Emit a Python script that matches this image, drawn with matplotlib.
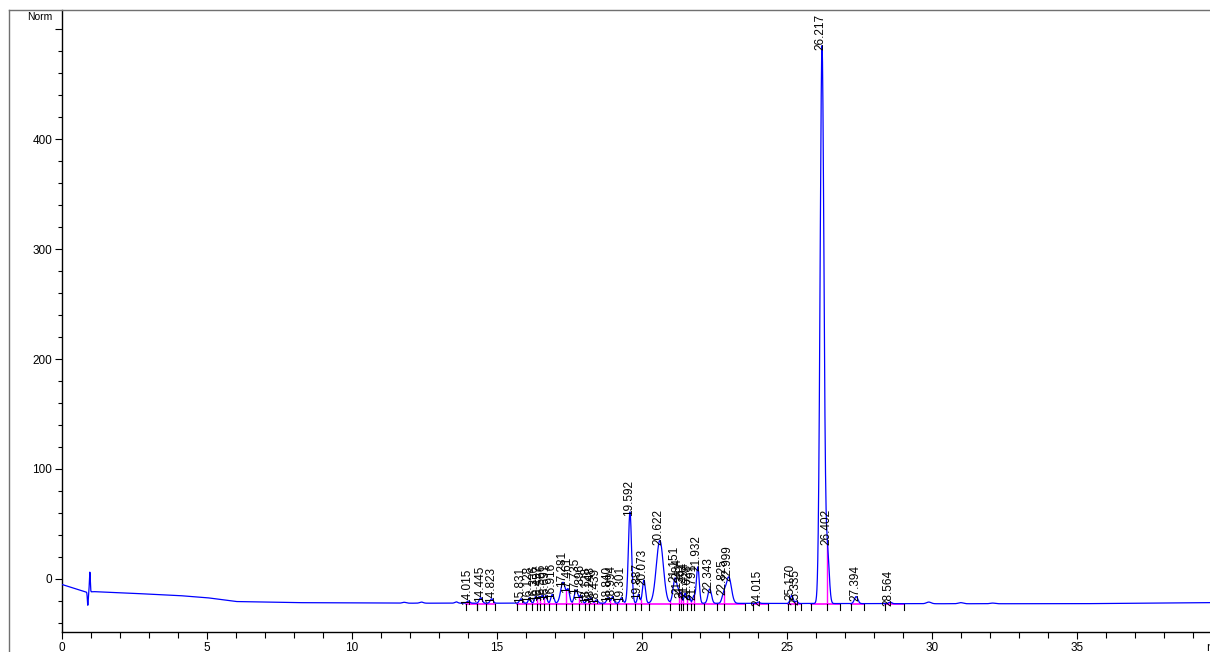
import numpy as np
import matplotlib.pyplot as plt
from matplotlib.lines import Line2D
from matplotlib.ticker import MultipleLocator, FixedLocator, FuncFormatter

plt.rcParams['font.family'] = ['Liberation Sans', 'DejaVu Sans']

# integrated peaks: retention time (min), apex signal (Norm), width (sigma, min)
peak_rt = [14.015, 14.445, 14.823, 15.831, 16.128, 16.336, 16.457, 16.566, 16.691,
           16.916, 17.281, 17.461, 17.735, 17.896, 18.128, 18.248, 18.439, 18.840,
           18.994, 19.301, 19.592, 19.887, 20.073, 20.622, 21.151, 21.284, 21.361,
           21.494, 21.628, 21.791, 21.932, 22.343, 22.825, 22.999, 24.015, 25.170,
           25.335, 26.217, 26.402, 27.394, 28.564]
peak_apex = [-20, -17, -18, -18, -17, -16, -16, -15, -15,
             -14, -3, -9, -10, -15, -18, -17, -19, -17,
             -16, -17, 61, -14, -1, 35, 1, -10, -13,
             -13, -15, -15, 11, -9, -11, 2, -21, -15,
             -20, 485, 35, -16, -21]
peak_sigma = [0.05, 0.05, 0.05, 0.05, 0.04, 0.04, 0.04, 0.04, 0.04,
              0.05, 0.08, 0.05, 0.06, 0.05, 0.04, 0.04, 0.05, 0.05,
              0.04, 0.05, 0.055, 0.04, 0.05, 0.12, 0.07, 0.04, 0.03,
              0.04, 0.04, 0.04, 0.05, 0.06, 0.06, 0.09, 0.05, 0.05,
              0.04, 0.065, 0.06, 0.06, 0.05]

# small unlabelled bumps and the injection disturbance
minor_rt = [0.89, 0.96, 11.8, 12.4, 13.6, 29.9, 31.0, 32.1]
minor_amp = [-12, 18, 0.8, 1.0, 1.2, 1.5, 1.0, 0.6]
minor_sigma = [0.015, 0.015, 0.06, 0.06, 0.05, 0.08, 0.08, 0.08]

# baseline drift
drift_t = [0, 0.85, 1.1, 2, 4, 5, 6, 8, 12, 20, 30, 35, 39.6]
drift_v = [-5, -12, -11.5, -12.5, -15, -17, -20.5, -21.5, -22, -22, -22.5, -22.5, -21.5]

# integration windows (start, end) and their baseline level
windows = [(13.95, 14.3), (14.3, 14.95), (15.7, 19.45), (19.45, 23.55), (23.85, 24.35),
           (25.05, 25.5), (25.85, 26.85), (27.2, 27.65), (28.4, 29.05)]
int_level = -23


def gauss(x, c, s):
    return np.exp(-(x - c) ** 2 / (2 * s ** 2))


rt = np.array(peak_rt)
sig = np.array(peak_sigma)
# peak amplitudes chosen so the trace passes through each apex value
overlap = gauss(rt[:, None], rt[None, :], sig[None, :])
amps = np.linalg.solve(overlap, np.array(peak_apex) - np.interp(rt, drift_t, drift_v))

t = np.linspace(0, 39.6, 8000)
signal = np.interp(t, drift_t, drift_v)
for c, a, s in zip(rt, amps, sig):
    signal += a * gauss(t, c, s)
for c, a, s in zip(minor_rt, minor_amp, minor_sigma):
    signal += a * gauss(t, c, s)

fig = plt.figure(figsize=(12.1, 6.52), dpi=100)
ax = fig.add_axes([62 / 1210, 1 - 632 / 652, 1 - 62 / 1210, (632 - 10) / 652])

# integration baselines, valley drop lines and event marks
for start, end in windows:
    ax.plot([start, end], [int_level, int_level], color='#ff00ff', lw=1.2, zorder=2)
    for x in (start, end):
        ax.plot([x, x], [int_level, int_level - 5], color='black', lw=0.8, zorder=2)
    inside = [c for c in peak_rt if start < c < end]
    for a, b in zip(inside[:-1], inside[1:]):
        seg = (t > a) & (t < b)
        i = np.argmin(signal[seg])
        xd, yd = t[seg][i], signal[seg][i]
        ax.plot([xd, xd], [int_level, yd], color='#ff00ff', lw=1.0, zorder=2)
        ax.plot([xd, xd], [int_level, int_level - 5], color='black', lw=0.8, zorder=2)

ax.plot(t, signal, color='#0000ff', lw=0.9, zorder=3)

for c in peak_rt:
    y = np.interp(c, t, signal) - 4
    ax.text(c - 0.04, y, f"{c:.3f}", rotation=90, ha='center', va='bottom',
            fontsize=8.5, zorder=4)

ax.set_xlim(0, 39.6)
ax.set_ylim(-48.2, 517.3)
for side in ('top', 'right'):
    ax.spines[side].set_visible(False)
ax.spines['left'].set_linewidth(1.0)
ax.spines['bottom'].set_linewidth(1.0)

ax.xaxis.set_major_locator(MultipleLocator(5))
ax.xaxis.set_minor_locator(MultipleLocator(1))
ax.yaxis.set_major_locator(FixedLocator([0, 100, 200, 300, 400, 500]))
ax.yaxis.set_major_formatter(FuncFormatter(lambda v, p: '' if v >= 500 else f"{v:.0f}"))
ax.yaxis.set_minor_locator(MultipleLocator(20))
ax.tick_params(axis='both', which='major', length=5, width=0.8, labelsize=8.5, pad=2)
ax.tick_params(axis='both', which='minor', length=3, width=0.8)
ax.tick_params(axis='x', which='minor', length=4)

fig.text(40 / 1210, 1 - 17 / 652, "Norm", ha='center', va='center', fontsize=7.5)
fig.text(1206 / 1210, 1 - 648 / 652, "min", ha='left', va='center', fontsize=8.5)

# outer frame
fig.add_artist(Line2D([9 / 1210, 9 / 1210], [0, 1 - 10 / 652], transform=fig.transFigure,
                      color='#707070', lw=1.0))
fig.add_artist(Line2D([9 / 1210, 1], [1 - 10 / 652, 1 - 10 / 652], transform=fig.transFigure,
                      color='#707070', lw=1.0))

fig.savefig("out.png", dpi=100)
